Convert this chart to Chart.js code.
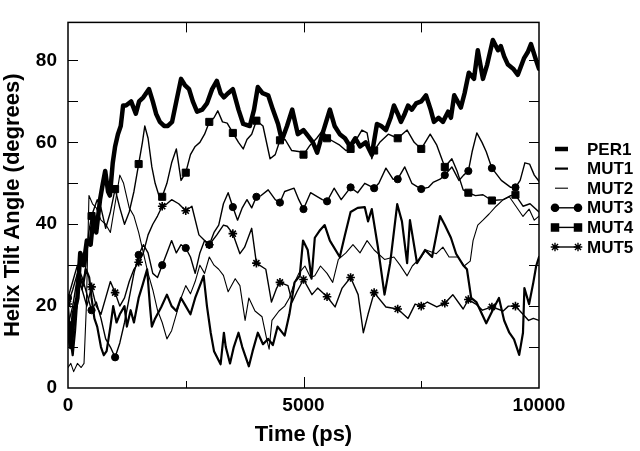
<!DOCTYPE html>
<html>
<head>
<meta charset="utf-8">
<script src="https://cdn.jsdelivr.net/npm/chart.js@4.4.0/dist/chart.umd.min.js"></script>
<style>
  html, body { margin: 0; padding: 0; background: #fff; }
  canvas { display: block; }
</style>
</head>
<body>
<canvas id="tiltChart" width="640" height="451"></canvas>
<script>
// [time (ps), tilt angle (degrees)]
const per1 = [[0,16],[60,10],[120,18],[200,22],[260,33],[330,30],[400,36],[480,35],[540,42],[600,38],[680,46],[740,50],[790,53],[850,48],[890,47],[950,55],[1000,59],[1060,62],[1120,64],[1170,69],[1230,69],[1340,70],[1440,67],[1510,70],[1600,71],[1720,73],[1800,70],[1870,67],[1950,65],[2040,64],[2120,64],[2210,65],[2300,70],[2400,75.5],[2480,74],[2570,73],[2650,70],[2740,67.5],[2850,68],[2950,69.5],[3060,73],[3160,75],[3240,72],[3310,71],[3400,72],[3500,73],[3620,68],[3720,64.5],[3860,64],[3950,68],[4030,73.5],[4130,72],[4250,71.5],[4350,68],[4460,64.5],[4540,60.5],[4650,64],[4760,68],[4880,62],[5000,63],[5100,61.5],[5200,60],[5290,57.5],[5400,62],[5480,65],[5560,68],[5660,64],[5770,62],[5880,61],[5990,59],[6100,61],[6200,59],[6320,60],[6450,57],[6560,64.5],[6650,64],[6750,63],[6850,66],[6920,69],[7000,67],[7070,65],[7150,67],[7220,69],[7300,68],[7390,69.5],[7500,70],[7600,71.5],[7700,68],[7770,65],[7870,66],[7960,65],[8070,67.5],[8130,66],[8200,71.5],[8270,70],[8340,68.5],[8420,72],[8510,77],[8620,75.5],[8700,82.5],[8810,75.5],[8900,79],[9020,85],[9130,82.5],[9190,83.5],[9260,81],[9340,79],[9450,78],[9550,76.5],[9680,80.5],[9760,82],[9830,84],[9940,80],[10000,78]];

const mut1 = [[0,20],[50,12],[100,8],[150,14],[200,22],[260,27],[320,25],[380,29],[450,27],[500,22],[560,17],[620,15],[700,10],[760,8],[820,9],[900,15],[960,20],[1030,16],[1100,18],[1200,20],[1250,15],[1330,19],[1400,16],[1500,22],[1580,25],[1680,29],[1740,20],[1780,15],[1850,17],[1980,19.8],[2100,22.8],[2200,20],[2300,18.8],[2400,22],[2500,20],[2600,18],[2700,22],[2880,27.4],[2950,20],[3030,13.5],[3100,9],[3240,5.8],[3310,13.5],[3350,10],[3440,6],[3520,10],[3620,13.5],[3700,10],[3840,5.3],[3920,9],[4030,13.5],[4140,10.7],[4250,12],[4350,10.5],[4450,15],[4600,12.8],[4700,18],[4810,25.8],[4920,27.4],[4990,36],[5090,33.7],[5170,26.7],[5240,36.7],[5340,38.4],[5450,39.8],[5560,36],[5770,32],[5880,37.4],[6000,43],[6150,44],[6300,44.2],[6370,40.7],[6450,43.7],[6580,34.4],[6720,22.8],[6840,30.5],[6990,44.9],[7090,40.7],[7200,30.5],[7260,41],[7410,30.5],[7580,33.7],[7730,32],[7900,42],[8000,39.8],[8130,36.7],[8240,32.8],[8390,30],[8470,29],[8560,22],[8670,21],[8880,15.8],[9050,19.8],[9150,22],[9260,16.5],[9370,13.5],[9470,11.9],[9580,8.1],[9660,13.5],[9690,24.4],[9790,20.5],[9880,25.8],[9940,29.8],[10000,32]];

const mut2 = [[0,5],[60,6],[120,4],[200,6],[280,5],[340,6],[390,20],[445,47],[520,45],[600,44],[700,41],[800,40],[900,38],[1000,45],[1100,52],[1180,50],[1300,44],[1400,42],[1500,38],[1600,33],[1700,28],[1800,24],[1900,19],[2000,16],[2100,12],[2200,14],[2300,18],[2400,22],[2500,25],[2600,23],[2700,26],[2800,30],[2900,28],[3000,32],[3100,30],[3200,29],[3300,27.5],[3400,23.5],[3550,26.7],[3650,25],[3760,16.5],[3840,22],[3970,18.8],[4120,17.4],[4220,11.9],[4270,9.5],[4330,16.5],[4480,18.8],[4600,20],[4700,22],[4810,25.8],[4900,28],[5030,29.8],[5150,27],[5240,27.4],[5360,29.8],[5500,28],[5620,25.8],[5740,31.4],[5900,33],[6050,35],[6200,33],[6350,36],[6500,33.7],[6720,31.4],[6920,32],[7050,30],[7200,27.4],[7310,29.8],[7500,32],[7600,33.7],[7820,32.8],[7960,34.4],[8090,32],[8280,32],[8410,29.8],[8540,31],[8600,36],[8700,39.8],[8810,41],[8940,42.5],[9090,44.4],[9240,46],[9370,46.7],[9510,44.4],[9660,41.9],[9790,43.7],[9900,41],[10000,42]];

const mut3 = [[0,22],[100,26],[200,30],[300,27],[400,23],[500,19],[600,21],[700,17],[800,12],[900,10],[1000,7.5],[1100,11],[1200,16],[1300,22],[1400,28],[1500,32.5],[1600,35],[1700,33],[1800,28],[1900,27],[2000,30],[2100,33],[2200,36],[2300,33],[2400,35],[2500,34.2],[2600,32],[2700,28],[2800,33],[2900,36],[3000,35],[3100,38],[3200,39.8],[3300,45],[3400,47.7],[3500,44.2],[3600,41],[3700,44],[3800,46],[3900,44],[4000,46.7],[4100,47],[4250,48.4],[4400,46],[4500,45.3],[4600,48],[4800,48.8],[4900,46],[5000,43.7],[5150,47.7],[5300,46.7],[5400,46],[5500,45.6],[5650,48.8],[5800,46],[6000,49],[6150,47.7],[6300,50],[6500,48.8],[6600,50],[6750,53.7],[6900,51],[7000,51],[7150,54],[7300,50],[7500,48.6],[7650,49],[7750,50.2],[7900,51],[8000,52],[8150,54],[8300,50.7],[8400,52],[8500,53],[8580,57.7],[8680,62.3],[8790,60],[8880,57.7],[9000,53.7],[9200,50.7],[9400,49],[9500,49],[9600,50.7],[9700,55],[9800,54.7],[9900,52],[10000,50.5]];

const mut4 = [[0,15.3],[100,20],[200,27],[300,24],[380,30],[440,38],[500,42],[620,46],[700,44],[800,39],[900,43],[1000,48.6],[1100,44],[1200,40],[1300,43],[1400,48],[1500,54.7],[1580,60],[1630,64],[1700,61],[1780,54],[1850,50],[1930,47],[2000,46.7],[2100,50],[2200,55],[2300,58.4],[2400,50.7],[2500,52.6],[2600,57],[2700,59],[2800,60],[2900,62],[3000,65],[3100,66],[3180,67.7],[3280,65],[3380,64.7],[3500,62.3],[3620,60],[3720,58.4],[3800,60.7],[3900,62],[4000,65.3],[4140,64],[4290,56],[4400,57],[4500,60.5],[4610,60.7],[4750,58],[4930,57.7],[5000,57],[5140,59.3],[5280,61],[5410,63],[5500,61],[5560,60.7],[5770,59.3],[5900,58],[6000,58.4],[6050,59.3],[6240,63],[6350,62.3],[6450,56],[6500,58],[6620,60],[6800,62],[7000,61],[7200,63],[7350,60],[7500,58.4],[7690,62],[7830,59.3],[8000,54],[8150,56],[8260,53],[8390,48.4],[8500,47.7],[8650,47],[8810,47.2],[9000,45.8],[9240,46],[9400,47],[9500,47.2],[9660,44.4],[9810,45],[10000,43]];

const mut5 = [[0,20.5],[100,24],[200,28],[300,24],[400,20],[500,24.7],[600,20],[700,18],[800,22],[900,26],[1000,23.3],[1100,20],[1200,22],[1300,26],[1400,29],[1500,30.7],[1600,33],[1700,37.4],[1800,40],[1900,42],[2000,44.4],[2100,45],[2200,46],[2350,45],[2500,43.3],[2630,44.4],[2780,37.4],[2900,36],[3000,35],[3160,37.4],[3300,39.8],[3380,39.5],[3500,37.7],[3650,32.8],[3750,34.4],[3900,39],[4000,30.5],[4200,29],[4320,21],[4430,24.4],[4500,25.8],[4670,25],[4760,21],[4860,23.5],[5000,26.5],[5180,22.8],[5300,24.4],[5500,22.3],[5670,19.8],[5820,24.4],[6000,27],[6160,22.8],[6270,13.5],[6370,18],[6500,23.3],[6750,19.8],[7000,19.3],[7220,17],[7370,20.5],[7500,20],[7630,21],[7830,19.8],[8000,20.7],[8170,22.8],[8390,19.3],[8500,21.6],[8660,20.5],[8800,19],[9000,19.8],[9240,18.8],[9350,20],[9500,20],[9660,18],[9780,16.5],[9880,17],[10000,16.5]];

const seriesNames = ['PER1', 'MUT1', 'MUT2', 'MUT3', 'MUT4', 'MUT5'];
const xTickLabels = [0, 5000, 10000];
const yTickLabels = [0, 20, 40, 60, 80];
const xTickMarks = [2500, 5000, 7500];
const yTickMarks = [10, 20, 30, 40, 50, 60, 70, 80];

const FONT = "'Liberation Sans', Arial, Helvetica, sans-serif";
Chart.defaults.font.family = FONT;
Chart.defaults.font.weight = 'bold';
Chart.defaults.color = '#000';

// markers every 500 ps
function markerRadius(r) {
    return (ctx) => {
        const t = ctx.raw && ctx.raw.x;
        return (t % 500 === 0 && t < 10000) ? r : 0;
    };
}

function toXY(rows) {
    return rows.map(([x, y]) => ({ x, y }));
}

const styles = [
    { borderWidth: 4.5, pointStyle: false, r: 0 },
    { borderWidth: 2.2, pointStyle: false, r: 0 },
    { borderWidth: 1.1, pointStyle: false, r: 0 },
    { borderWidth: 1.4, pointStyle: 'circle', r: 3.6 },
    { borderWidth: 1.4, pointStyle: 'rect', r: 5 },
    { borderWidth: 1.4, pointStyle: 'star', r: 4.3 },
];

const datasets = [per1, mut1, mut2, mut3, mut4, mut5].map((rows, i) => ({
    label: seriesNames[i],
    data: toXY(rows),
    borderColor: '#000',
    backgroundColor: '#000',
    borderWidth: styles[i].borderWidth,
    borderJoinStyle: 'round',
    borderCapStyle: 'round',
    pointStyle: styles[i].pointStyle || 'circle',
    pointRadius: styles[i].r ? markerRadius(styles[i].r) : 0,
    pointBorderWidth: i === 5 ? 1.6 : 1,
    pointBackgroundColor: '#000',
    pointBorderColor: '#000',
    tension: 0,
    fill: false,
}));

// box around the plot with inward ticks, plus the legend on the right
const frame = {
    id: 'frame',
    afterDraw(chart) {
        const { ctx, chartArea: a, scales } = chart;
        const xs = scales.x, ys = scales.y;
        ctx.save();
        ctx.strokeStyle = '#000';
        ctx.lineWidth = 1.5;
        ctx.strokeRect(a.left, a.top, a.right - a.left, a.bottom - a.top);
        ctx.lineWidth = 1;
        ctx.beginPath();
        yTickMarks.forEach((v) => {
            const y = Math.round(ys.getPixelForValue(v)) + 0.5;
            ctx.moveTo(a.left, y); ctx.lineTo(a.left + 10, y);
            ctx.moveTo(a.right, y); ctx.lineTo(a.right - 10, y);
        });
        xTickMarks.forEach((v) => {
            const x = Math.round(xs.getPixelForValue(v)) + 0.5;
            const len = v === 5000 ? 11 : 7;
            ctx.moveTo(x, a.bottom); ctx.lineTo(x, a.bottom - len);
            ctx.moveTo(x, a.top); ctx.lineTo(x, a.top + 10);
        });
        ctx.stroke();

        // legend
        ctx.font = 'bold 17px ' + FONT;
        ctx.textBaseline = 'middle';
        ctx.textAlign = 'left';
        ctx.fillStyle = '#000';
        chart.data.datasets.forEach((ds, i) => {
            const y = 149 + i * 19.6;
            const st = styles[i];
            const x1 = 555, x2 = st.r ? 578 : 568;
            ctx.lineWidth = st.borderWidth;
            ctx.beginPath();
            ctx.moveTo(x1, y); ctx.lineTo(x2, y);
            ctx.stroke();
            if (st.r) {
                [x1, x2].forEach((x) => {
                    Chart.helpers.drawPoint(ctx, {
                        pointStyle: st.pointStyle, rotation: 0,
                        radius: st.r, borderWidth: i === 5 ? 1.6 : 1,
                    }, x, y);
                });
            }
            ctx.fillText(ds.label, 587, y + 1);
        });
        ctx.restore();
    },
};

new Chart(document.getElementById('tiltChart'), {
    type: 'line',
    data: { datasets },
    options: {
        responsive: false,
        animation: false,
        events: [],
        layout: { padding: { top: 4, right: 101, left: 0, bottom: 0 } },
        plugins: {
            legend: { display: false },
            tooltip: { enabled: false },
        },
        scales: {
            x: {
                type: 'linear',
                min: 0,
                max: 10000,
                grid: { display: false, drawTicks: false },
                border: { display: false },
                afterFit(scale) { scale.height = 63; },
                afterBuildTicks(scale) { scale.ticks = xTickLabels.map((v) => ({ value: v })); },
                ticks: {
                    padding: 6,
                    maxRotation: 0,
                    font: { size: 19, weight: 'bold' },
                    callback: (v) => String(v),
                },
                title: {
                    display: true,
                    text: 'Time (ps)',
                    font: { size: 22, weight: 'bold' },
                    padding: { top: 0, bottom: 3 },
                },
            },
            y: {
                type: 'linear',
                min: 0,
                max: 89.3,
                grid: { display: false, drawTicks: false },
                border: { display: false },
                afterFit(scale) { scale.width = 68; },
                afterBuildTicks(scale) { scale.ticks = yTickLabels.map((v) => ({ value: v })); },
                ticks: {
                    padding: 11,
                    font: { size: 19, weight: 'bold' },
                    callback: (v) => String(v),
                },
                title: {
                    display: true,
                    text: 'Helix Tilt Angle (degrees)',
                    font: { size: 22, weight: 'bold' },
                    padding: { top: 0, bottom: 0 },
                },
            },
        },
    },
    plugins: [frame],
});
</script>
</body>
</html>
